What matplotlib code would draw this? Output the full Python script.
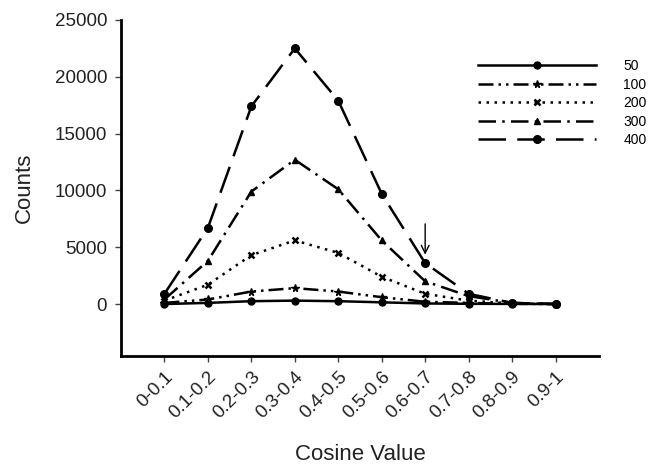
import matplotlib
matplotlib.use("Agg")
import matplotlib.pyplot as plt

categories = ["0-0.1", "0.1-0.2", "0.2-0.3", "0.3-0.4", "0.4-0.5",
              "0.5-0.6", "0.6-0.7", "0.7-0.8", "0.8-0.9", "0.9-1"]
s50 = [0, 100, 250, 300, 250, 150, 50, 20, 10, 0]
s100 = [100, 400, 1100, 1400, 1100, 600, 200, 100, 20, 0]
s200 = [300, 1700, 4300, 5600, 4500, 2400, 900, 300, 50, 0]
s300 = [400, 3800, 9900, 12700, 10100, 5600, 2000, 700, 100, 0]
s400 = [900, 6700, 17400, 22500, 17900, 9700, 3600, 900, 100, 0]
labels = ["50", "100", "200", "300", "400"]
yticks = [0, 5000, 10000, 15000, 20000, 25000]

plt.rcParams['font.family'] = ['Liberation Sans', 'DejaVu Sans']
fig = plt.figure(figsize=(6.55, 4.65), dpi=100)
ax = fig.add_axes([0.1847, 0.235, 0.7298, 0.722])

x = list(range(len(categories)))
lw = 1.8
ax.plot(x, s50, color='black', lw=lw, ls='-', marker='o', ms=5, label=labels[0])
ax.plot(x, s100, color='black', lw=lw, ls=(0, (6, 2, 1, 2, 1, 2)), marker='*', ms=5.5, label=labels[1])
ax.plot(x, s200, color='black', lw=lw, ls=(0, (1, 2.2)), marker='x', ms=5, mew=1.8, label=labels[2])
ax.plot(x, s300, color='black', lw=lw, ls=(0, (7, 2.5, 1, 2.5)), marker='^', ms=5, label=labels[3])
ax.plot(x, s400, color='black', lw=lw, ls=(0, (11, 4.5)), marker='o', ms=5.5, label=labels[4])

ax.annotate('', xy=(6, 4100), xytext=(6, 7300),
            arrowprops=dict(arrowstyle='->', color='black', lw=1.0, mutation_scale=14))

ax.set_xlim(-1, 10)
ax.set_ylim(-4550, 25000)
ax.set_xticks(x)
ax.set_xticklabels(categories, rotation=45, ha='right', rotation_mode='anchor', fontsize=13.5, color='#222222')
ax.set_yticks(yticks)
ax.set_yticklabels([str(v) for v in yticks], fontsize=13.5, color='#222222')
ax.tick_params(axis='both', length=4, width=1, color='#444444')
ax.tick_params(axis='x', pad=5)
ax.tick_params(axis='y', pad=6)
for side in ['top', 'right']:
    ax.spines[side].set_visible(False)
for side in ['left', 'bottom']:
    ax.spines[side].set_linewidth(2)

ax.set_ylabel('Counts', fontsize=16, color='#222222', labelpad=14)
ax.set_xlabel('Cosine Value', fontsize=16, color='#222222', labelpad=16)

leg = ax.legend(loc='upper left', bbox_to_anchor=(0.72, 0.92), frameon=False,
                handlelength=8.5, handletextpad=2.0, labelspacing=0.32,
                fontsize=10, numpoints=1)

fig.savefig('out.png', dpi=100)
